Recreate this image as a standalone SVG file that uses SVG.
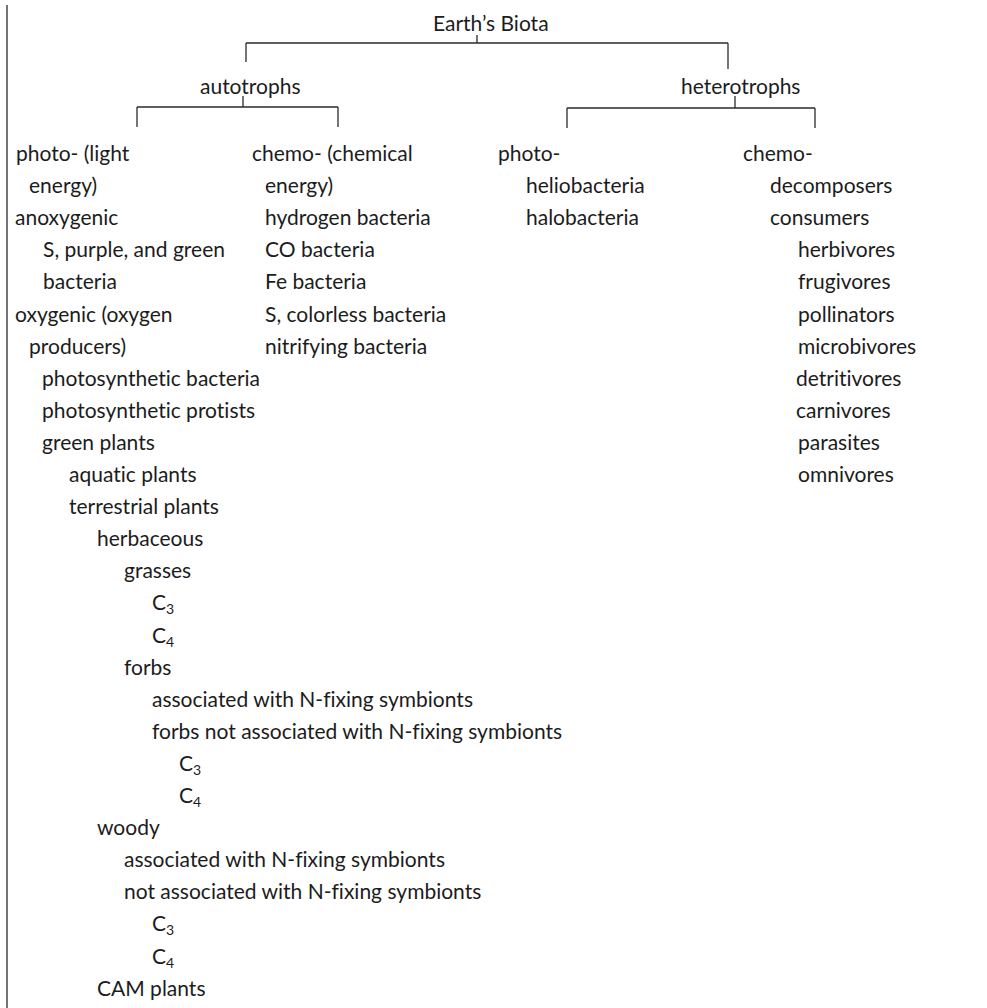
<svg xmlns="http://www.w3.org/2000/svg" width="987" height="1008" viewBox="0 0 987 1008">
  <style>
    text { font-family: Lato, "Open Sans", "Liberation Sans", sans-serif; font-size: 21px; fill: #1c1c1c; font-variant-ligatures: none; }
    .sub { font-size: 14px; }
    .conn line { stroke: #2a2a2a; stroke-width: 1.3; fill: none; }
  </style>
  <rect width="987" height="1008" fill="#ffffff"/>

  <!-- tree brackets and left rule -->
  <g id="connectors" class="conn">
    <line x1="7" y1="5" x2="7" y2="1008"/>
    <!-- Earth's Biota split -->
    <line x1="477" y1="35" x2="477" y2="43"/>
    <line x1="246" y1="43" x2="728" y2="43"/>
    <line x1="246" y1="43" x2="246" y2="62"/>
    <line x1="728" y1="43" x2="728" y2="69"/>
    <!-- autotrophs split -->
    <line x1="243" y1="96" x2="243" y2="107"/>
    <line x1="137" y1="107" x2="338" y2="107"/>
    <line x1="137" y1="107" x2="137" y2="127"/>
    <line x1="338" y1="107" x2="338" y2="127"/>
    <!-- heterotrophs split -->
    <line x1="735" y1="96" x2="735" y2="108"/>
    <line x1="567" y1="108" x2="815" y2="108"/>
    <line x1="567" y1="108" x2="567" y2="128"/>
    <line x1="815" y1="108" x2="815" y2="128"/>
  </g>

  <g id="earths-biota"><text x="433" y="31">Earth’s Biota</text></g>
  <g id="autotrophs"><text x="200" y="94">autotrophs</text></g>
  <g id="heterotrophs"><text x="681" y="94">heterotrophs</text></g>

  <!-- autotrophs: photo- branch (rows about 32px apart from y=161) -->
  <g id="auto-photo"><text x="16" y="161">photo- (light</text><text x="29" y="193">energy)</text></g>
  <g id="anoxygenic"><text x="15" y="225">anoxygenic</text></g>
  <g id="s-purple-green"><text x="43" y="257">S, purple, and green</text><text x="43" y="289">bacteria</text></g>
  <g id="oxygenic"><text x="15" y="322">oxygenic (oxygen</text><text x="29" y="354">producers)</text></g>
  <g id="photosynthetic-bacteria"><text x="42" y="386">photosynthetic bacteria</text></g>
  <g id="photosynthetic-protists"><text x="42" y="418">photosynthetic protists</text></g>
  <g id="green-plants"><text x="42" y="450">green plants</text></g>
  <g id="aquatic-plants"><text x="69" y="482">aquatic plants</text></g>
  <g id="terrestrial-plants"><text x="69" y="514">terrestrial plants</text></g>
  <g id="herbaceous"><text x="97" y="546">herbaceous</text></g>
  <g id="grasses"><text x="124" y="578">grasses</text></g>
  <g id="grasses-c3"><text x="152" y="610">C<tspan class="sub" dy="4">3</tspan></text></g>
  <g id="grasses-c4"><text x="152" y="643">C<tspan class="sub" dy="4">4</tspan></text></g>
  <g id="forbs"><text x="124" y="675">forbs</text></g>
  <g id="forbs-n-fixing"><text x="152" y="707">associated with N-fixing symbionts</text></g>
  <g id="forbs-not-n-fixing"><text x="152" y="739">forbs not associated with N-fixing symbionts</text></g>
  <g id="forbs-c3"><text x="179" y="771">C<tspan class="sub" dy="4">3</tspan></text></g>
  <g id="forbs-c4"><text x="179" y="803">C<tspan class="sub" dy="4">4</tspan></text></g>
  <g id="woody"><text x="97" y="835">woody</text></g>
  <g id="woody-n-fixing"><text x="124" y="867">associated with N-fixing symbionts</text></g>
  <g id="woody-not-n-fixing"><text x="124" y="899">not associated with N-fixing symbionts</text></g>
  <g id="woody-c3"><text x="152" y="931">C<tspan class="sub" dy="4">3</tspan></text></g>
  <g id="woody-c4"><text x="152" y="964">C<tspan class="sub" dy="4">4</tspan></text></g>
  <g id="cam-plants"><text x="97" y="996">CAM plants</text></g>

  <!-- autotrophs: chemo- branch -->
  <g id="auto-chemo"><text x="252" y="161">chemo- (chemical</text><text x="265" y="193">energy)</text></g>
  <g id="hydrogen-bacteria"><text x="265" y="225">hydrogen bacteria</text></g>
  <g id="co-bacteria"><text x="265" y="257">CO bacteria</text></g>
  <g id="fe-bacteria"><text x="265" y="289">Fe bacteria</text></g>
  <g id="s-colorless-bacteria"><text x="265" y="322">S, colorless bacteria</text></g>
  <g id="nitrifying-bacteria"><text x="265" y="354">nitrifying bacteria</text></g>

  <!-- heterotrophs: photo- branch -->
  <g id="hetero-photo"><text x="498" y="161">photo-</text></g>
  <g id="heliobacteria"><text x="526" y="193">heliobacteria</text></g>
  <g id="halobacteria"><text x="526" y="225">halobacteria</text></g>

  <!-- heterotrophs: chemo- branch -->
  <g id="hetero-chemo"><text x="743" y="161">chemo-</text></g>
  <g id="decomposers"><text x="770" y="193">decomposers</text></g>
  <g id="consumers"><text x="770" y="225">consumers</text></g>
  <g id="herbivores"><text x="798" y="257">herbivores</text></g>
  <g id="frugivores"><text x="798" y="289">frugivores</text></g>
  <g id="pollinators"><text x="798" y="322">pollinators</text></g>
  <g id="microbivores"><text x="798" y="354">microbivores</text></g>
  <g id="detritivores"><text x="796" y="386">detritivores</text></g>
  <g id="carnivores"><text x="796" y="418">carnivores</text></g>
  <g id="parasites"><text x="798" y="450">parasites</text></g>
  <g id="omnivores"><text x="798" y="482">omnivores</text></g>
</svg>
